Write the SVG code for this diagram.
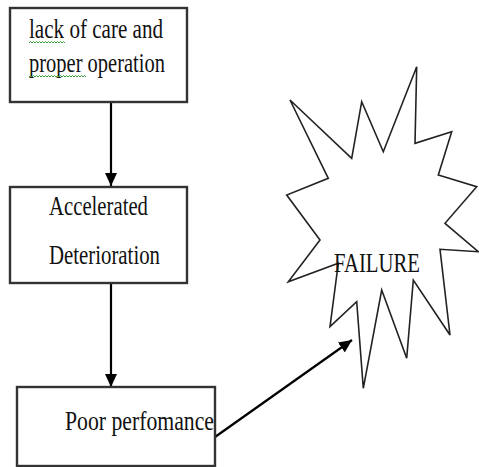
<svg xmlns="http://www.w3.org/2000/svg" width="479" height="467" viewBox="0 0 479 467">
<style>
.box{fill:#fff;stroke:#333;stroke-width:2.4}
.lbl{font-family:"Liberation Serif","Times New Roman",serif;font-size:21px;fill:#111}
.conn{stroke:#000;stroke-width:2.2;fill:none}
.sq{stroke:#3a9a3a;stroke-width:1;fill:none}
.star{fill:#fff;stroke:#222;stroke-width:1.6;stroke-linejoin:miter}
</style>
<defs>
<marker id="ah" markerUnits="userSpaceOnUse" markerWidth="14" markerHeight="12" refX="13" refY="6" orient="auto">
<path d="M0,0 L13,6 L0,12 Z" fill="#000"/>
</marker>
</defs>
<rect width="479" height="467" fill="#fff"/>
<g id="connectors">
<line class="conn" x1="111" y1="102" x2="111" y2="186" marker-end="url(#ah)"/>
<line class="conn" x1="111" y1="283" x2="111" y2="387" marker-end="url(#ah)"/>
<line class="conn" x1="215" y1="437" x2="352" y2="340" marker-end="url(#ah)"/>
</g>
<g id="node-lack">
<rect class="box" x="10" y="8" width="177" height="94"/>
<text class="lbl" transform="translate(29,38) scale(1,1.35)" textLength="134" lengthAdjust="spacingAndGlyphs">lack of care and</text>
<text class="lbl" transform="translate(29,72) scale(1,1.35)" textLength="136" lengthAdjust="spacingAndGlyphs">proper operation</text>
<polyline class="sq" points="29,43 30.5,41.5 32,43 33.5,41.5 35,43 36.5,41.5 38,43 39.5,41.5 41,43 42.5,41.5 44,43 45.5,41.5 47,43 48.5,41.5 50,43 51.5,41.5 53,43 54.5,41.5 56,43 57.5,41.5 59,43 60.5,41.5 62,43 63.5,41.5 65,43"/>
<polyline class="sq" points="29,77 30.5,75.5 32,77 33.5,75.5 35,77 36.5,75.5 38,77 39.5,75.5 41,77 42.5,75.5 44,77 45.5,75.5 47,77 48.5,75.5 50,77 51.5,75.5 53,77 54.5,75.5 56,77 57.5,75.5 59,77 60.5,75.5 62,77 63.5,75.5 65,77 66.5,75.5 68,77 69.5,75.5 71,77 72.5,75.5 74,77 75.5,75.5 77,77 78.5,75.5 80,77 81.5,75.5 83,77 84.5,75.5 86,77"/>
</g>
<g id="node-accelerated">
<rect class="box" x="10" y="187" width="177" height="96"/>
<text class="lbl" transform="translate(49,215) scale(1,1.35)" textLength="99" lengthAdjust="spacingAndGlyphs">Accelerated</text>
<text class="lbl" transform="translate(49,264) scale(1,1.35)" textLength="111" lengthAdjust="spacingAndGlyphs">Deterioration</text>
</g>
<g id="node-poor">
<rect class="box" x="17" y="387" width="198" height="79"/>
<text class="lbl" transform="translate(65,430) scale(1,1.35)" textLength="149" lengthAdjust="spacingAndGlyphs">Poor perfomance</text>
</g>
<g id="node-failure">
<polygon class="star" points="290,100 351.7,158.3 361.7,101.7 383.3,151.7 416.7,66.7 415,143.3 451.7,131.7 438.3,175 476.7,186.7 445,223.3 478.3,251.7 440,249.3 450,335 413.3,280 406.7,358.3 381.7,290 363.3,388.3 356.7,301.7 330,326.7 338.3,263.3 288.3,281.7 320,240 286.7,195 328.3,178.3"/>
<text class="lbl" transform="translate(334,272) scale(1,1.35)" textLength="86" lengthAdjust="spacingAndGlyphs">FAILURE</text>
</g>
</svg>
